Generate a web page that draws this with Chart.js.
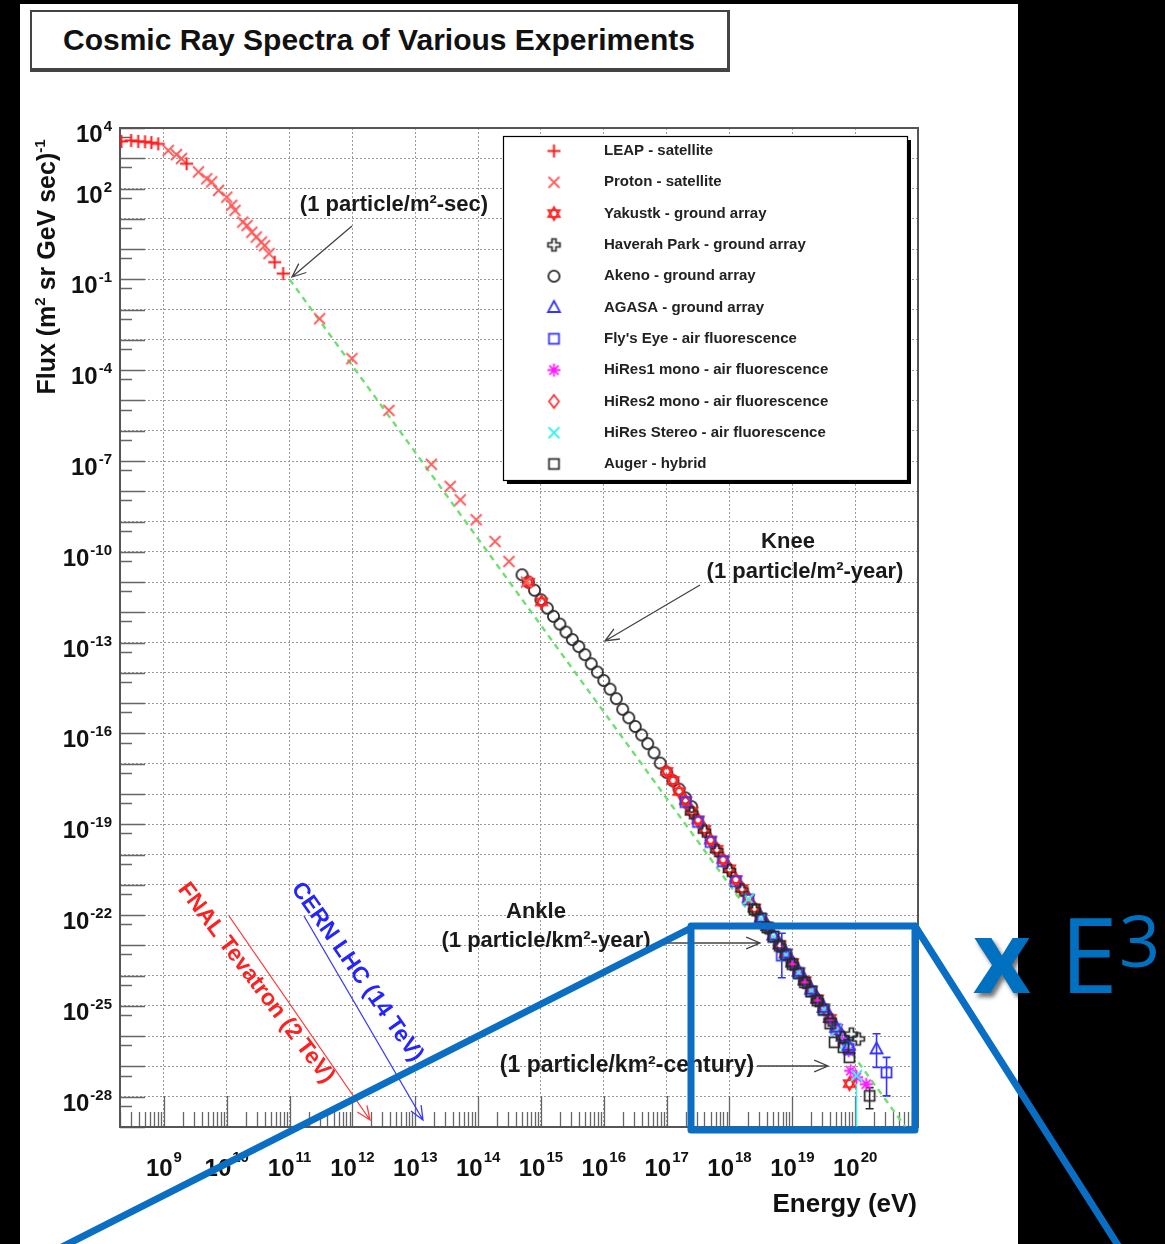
<!DOCTYPE html>
<html lang="en">
<head>
<meta charset="utf-8">
<title>Cosmic Ray Spectra of Various Experiments</title>
<script src="https://cdn.jsdelivr.net/npm/chart.js@4.4.1/dist/chart.umd.min.js"></script>
<style>
  html, body { margin: 0; padding: 0; background: #000; }
  #wrap { position: relative; width: 1165px; height: 1244px; overflow: hidden; }
  #chart { position: absolute; left: 0; top: 0; }
  #title {
    position: absolute; left: 30px; top: 10px; width: 700px; height: 62px;
    box-sizing: border-box; background: #fff;
    border: 2px solid #444; border-right-width: 3px; border-bottom-width: 4px;
    font-family: "Liberation Sans", Arial, sans-serif; font-weight: bold; font-size: 30px;
    line-height: 56px; padding-left: 31px; color: #111; white-space: nowrap;
  }
</style>
</head>
<body>
<div id="wrap">
  <canvas id="chart" width="1165" height="1244"></canvas>
  <div id="title">Cosmic Ray Spectra of Various Experiments</div>
</div>
<script>
// energies in eV, flux in (m^2 sr GeV sec)^-1
const leapEnergy = [2.1e8, 3.0e8, 3.9e8, 5.0e8, 6.3e8, 8.1e8, 2.3e9, 5.8e10, 7.9e10];
const leapFlux = [3.6e3, 3.9e3, 3.6e3, 3.5e3, 3.3e3, 3.0e3, 6.6e2, 0.37, 0.155];

const protonEnergy = [1.17e9, 1.58e9, 1.9e9, 3.55e9, 4.8e9, 5.75e9, 7.4e9, 1.0e10, 1.2e10, 1.35e10, 1.8e10, 2.1e10, 2.5e10, 2.95e10, 3.55e10, 4.0e10, 4.7e10,
  3.0e11, 9.8e11, 3.8e12, 1.8e13, 3.6e13, 5.2e13, 9.3e13, 1.86e14, 3.1e14, 5.9e14];
const protonFlux = [1.8e3, 1.32e3, 9.8e2, 3.55e2, 2.1e2, 1.66e2, 87, 52, 28, 19, 7.8, 6.0, 3.6, 2.5, 1.7, 1.3, 0.71,
  5.0e-3, 2.4e-4, 4.7e-6, 7.8e-8, 1.45e-8, 5.2e-9, 1.15e-9, 2.2e-10, 4.8e-11, 1.0e-11];

const yakutskEnergy = [6.3e14, 1.02e15, 1e17, 1.26e17, 1.58e17, 2e17, 2.5e17, 3.16e17, 4e17, 5e17, 6.3e17, 7.9e17, 1e18, 1.26e18, 1.58e18, 2e18,
  2.5e18, 3.16e18, 4e18, 5e18, 6.3e18, 7.9e18, 1e19, 1.26e19, 1.58e19, 2e19, 2.5e19, 3.16e19, 4e19, 5e19, 8.1e19];
const yakutskFlux = [1.0e-11, 2.2e-12, 5.6e-18, 2.8e-18, 1.2e-18, 6.0e-19, 2.7e-19, 1.4e-19, 6.8e-20, 3.0e-20, 1.5e-20, 6.8e-21, 3.4e-21, 1.5e-21, 7.5e-22, 3.6e-22,
  1.7e-22, 8.2e-23, 4.3e-23, 2.1e-23, 1.05e-23, 5.4e-24, 2.7e-24, 1.35e-24, 6.8e-25, 3.4e-25, 1.7e-25, 8.5e-26, 3.9e-26, 1.8e-26, 2.7e-28];

const haverahEnergy = [2.5e17, 4e17, 6.3e17, 1e18, 1.58e18, 2.5e18, 4e18, 6.3e18, 1e19, 1.58e19, 2.5e19, 4e19, 6.3e19, 8.7e19, 1.12e20];
const haverahFlux = [2.4e-19, 6.0e-20, 1.35e-20, 3.0e-21, 6.8e-22, 1.5e-22, 3.8e-23, 9.5e-24, 2.4e-24, 6.0e-25, 1.5e-25, 3.4e-26, 9.0e-27, 1.17e-26, 8.1e-27];

const akenoEnergy = [5e14, 6.3e14, 7.9e14, 1e15, 1.26e15, 1.58e15, 2e15, 2.5e15, 3.16e15, 4e15, 5e15, 6.3e15, 7.9e15, 1e16,
  1.26e16, 1.58e16, 2e16, 2.5e16, 3.16e16, 4e16, 5e16, 6.3e16, 7.9e16, 1e17, 1.26e17, 1.58e17, 2e17, 2.5e17];
const akenoFlux = [1.74e-11, 1.0e-11, 5.4e-12, 2.6e-12, 1.38e-12, 7.4e-13, 4.1e-13, 2.24e-13, 1.26e-13, 7.4e-14, 4.0e-14, 2.0e-14, 1.07e-14, 5.6e-15,
  2.9e-15, 1.41e-15, 6.3e-16, 3.3e-16, 1.7e-16, 8.9e-17, 4.6e-17, 2.3e-17, 1.05e-17, 5.2e-18, 2.75e-18, 1.45e-18, 7.4e-19, 3.8e-19];

const agasaEnergy = [3.16e18, 4e18, 5e18, 6.3e18, 7.9e18, 1e19, 1.26e19, 1.58e19, 2e19, 2.5e19, 3.16e19, 4e19, 5e19, 6.3e19, 7.9e19, 2.19e20];
const agasaFlux = [8.5e-23, 4.5e-23, 2.2e-23, 1.1e-23, 5.6e-24, 2.8e-24, 1.4e-24, 7.1e-25, 3.6e-25, 1.8e-25, 9.0e-26, 4.2e-26, 2.0e-26, 1.0e-26, 5.0e-27, 3.8e-27];
const agasaErrHigh = [null, null, null, null, null, null, null, null, null, null, null, null, null, null, 9e-27, 1.2e-26];
const agasaErrLow = [null, null, null, null, null, null, null, null, null, null, null, null, null, null, 2.5e-27, 9.3e-28];

const flysEyeEnergy = [2e17, 3.16e17, 5e17, 7.9e17, 1.26e18, 2e18, 3.16e18, 5e18, 6.8e18, 7.9e18, 1.26e19, 2e19, 3.16e19, 5e19, 7.9e19, 3.16e20];
const flysEyeFlux = [5.4e-19, 1.2e-19, 2.6e-20, 6.0e-21, 1.3e-21, 3.3e-22, 7.4e-23, 1.9e-23, 4.6e-24, 5.1e-24, 1.2e-24, 3.0e-25, 7.5e-26, 1.7e-26, 3.8e-27, 6.3e-28];
const flysEyeErrHigh = [null, null, null, null, null, null, null, null, 2.5e-23, null, null, null, null, null, null, 2.0e-27];
const flysEyeErrLow = [null, null, null, null, null, null, null, null, 8.5e-25, null, null, null, null, null, null, 1.07e-28];

const hires1Energy = [7.9e18, 1e19, 1.26e19, 1.58e19, 2e19, 2.5e19, 3.16e19, 4e19, 5e19, 6.3e19, 7.9e19, 8.5e19, 1.05e20, 1.5e20];
const hires1Flux = [5.0e-24, 2.6e-24, 1.3e-24, 6.5e-25, 3.1e-25, 1.6e-25, 8.0e-26, 3.6e-26, 1.7e-26, 7.5e-27, 3.3e-27, 7.2e-28, 4.4e-28, 2.6e-28];

const hires2Energy = [2e17, 2.5e17, 3.16e17, 4e17, 5e17, 6.3e17, 7.9e17, 1e18, 1.26e18, 1.58e18, 2e18, 2.5e18, 3.16e18, 4e18];
const hires2Flux = [5.2e-19, 2.6e-19, 1.3e-19, 6.5e-20, 2.9e-20, 1.45e-20, 6.5e-21, 3.2e-21, 1.45e-21, 7.3e-22, 3.5e-22, 1.6e-22, 8.0e-23, 4.0e-23];

const stereoEnergy = [2e18, 3.16e18, 5e18, 7.9e18, 1.26e19, 2e19, 3.16e19, 5e19, 7.1e19, 1.05e20];
const stereoFlux = [3.4e-22, 7.6e-23, 1.9e-23, 4.8e-24, 1.25e-24, 3.1e-25, 7.6e-26, 1.6e-26, 5.5e-27, 5.0e-28];
const stereoErrHigh = [null, null, null, null, null, null, null, null, null, null];
const stereoErrLow = [null, null, null, null, null, null, null, null, null, 1e-31];

const augerEnergy = [2.5e18, 3.16e18, 4e18, 5e18, 6.3e18, 7.9e18, 1e19, 1.26e19, 1.58e19, 2e19, 2.5e19, 3.16e19, 4e19, 4.7e19, 6.5e19, 8.1e19, 1.7e20];
const augerFlux = [1.55e-22, 7.8e-23, 3.9e-23, 1.95e-23, 9.6e-24, 4.9e-24, 2.4e-24, 1.2e-24, 6.0e-25, 3.0e-25, 1.5e-25, 7.4e-26, 2.6e-26, 6.3e-27, 4.3e-27, 2.0e-27, 1.07e-28];
const augerErrHigh = [null, null, null, null, null, null, null, null, null, null, null, null, null, null, null, null, 2.0e-28];
const augerErrLow = [null, null, null, null, null, null, null, null, null, null, null, null, null, null, null, null, 4.0e-29];

// green dashed fit line
const fitEnergy = [1e11, 6.3e20];
const fitFlux = [1e-1, 1e-29];

// axes
const xTickValues = [1e9, 1e10, 1e11, 1e12, 1e13, 1e14, 1e15, 1e16, 1e17, 1e18, 1e19, 1e20];
const xTickLabels = ['9', '10', '11', '12', '13', '14', '15', '16', '17', '18', '19', '20'];
const yGridValues = [1e4, 1e3, 1e2, 1e1, 1e0, 1e-1, 1e-2, 1e-3, 1e-4, 1e-5, 1e-6, 1e-7, 1e-8, 1e-9, 1e-10, 1e-11, 1e-12,
  1e-13, 1e-14, 1e-15, 1e-16, 1e-17, 1e-18, 1e-19, 1e-20, 1e-21, 1e-22, 1e-23, 1e-24, 1e-25, 1e-26, 1e-27, 1e-28];
const yTickValues = [1e4, 1e2, 1e-1, 1e-4, 1e-7, 1e-10, 1e-13, 1e-16, 1e-19, 1e-22, 1e-25, 1e-28];
const yTickLabels = ['4', '2', '-1', '-4', '-7', '-10', '-13', '-16', '-19', '-22', '-25', '-28'];

const FONT = '"Liberation Sans", Arial, sans-serif';

// ---- markers (ROOT-like) ----
function makeMarker(draw) {
  const c = document.createElement('canvas');
  c.width = 17;
  c.height = 17;
  const g = c.getContext('2d');
  g.translate(8.5, 8.5);
  g.lineWidth = 1.7;
  draw(g);
  return c;
}

function poly(g, pts) {
  g.beginPath();
  pts.forEach((p, i) => i ? g.lineTo(p[0], p[1]) : g.moveTo(p[0], p[1]));
  g.closePath();
}

const plusMarker = color => makeMarker(g => {
  g.strokeStyle = color; g.lineWidth = 2;
  g.beginPath(); g.moveTo(-6.5, 0); g.lineTo(6.5, 0); g.moveTo(0, -6.5); g.lineTo(0, 6.5); g.stroke();
});
const crossMarker = (color, w) => makeMarker(g => {
  g.strokeStyle = color; g.lineWidth = w;
  g.beginPath(); g.moveTo(-5.5, -5.5); g.lineTo(5.5, 5.5); g.moveTo(5.5, -5.5); g.lineTo(-5.5, 5.5); g.stroke();
});
const starMarker = color => makeMarker(g => {
  g.strokeStyle = color; g.lineWidth = 1.8;
  poly(g, [[0, -6.5], [5.7, 3.3], [-5.7, 3.3]]); g.stroke();
  poly(g, [[0, 6.5], [5.7, -3.3], [-5.7, -3.3]]); g.stroke();
});
const openCrossMarker = color => makeMarker(g => {
  g.strokeStyle = color;
  poly(g, [[-2, -6], [2, -6], [2, -2], [6, -2], [6, 2], [2, 2], [2, 6], [-2, 6],
    [-2, 2], [-6, 2], [-6, -2], [-2, -2]]);
  g.stroke();
});
const circleMarker = color => makeMarker(g => {
  g.strokeStyle = color; g.lineWidth = 1.8; g.beginPath(); g.arc(0, 0, 5.6, 0, Math.PI * 2); g.stroke();
});
const triangleMarker = color => makeMarker(g => {
  g.strokeStyle = color; g.lineWidth = 1.8; poly(g, [[0, -6.5], [6, 4.5], [-6, 4.5]]); g.stroke();
});
const squareMarker = (color, w) => makeMarker(g => {
  g.strokeStyle = color; g.lineWidth = w; g.strokeRect(-5, -5, 10, 10);
});
const diamondMarker = color => makeMarker(g => {
  g.strokeStyle = color; g.lineWidth = 1.7; poly(g, [[0, -6.5], [5, 0], [0, 6.5], [-5, 0]]); g.stroke();
});
const asteriskMarker = color => makeMarker(g => {
  g.strokeStyle = color; g.lineWidth = 1.8;
  g.beginPath();
  g.moveTo(-6.5, 0); g.lineTo(6.5, 0); g.moveTo(0, -6.5); g.lineTo(0, 6.5);
  g.moveTo(-4.6, -4.6); g.lineTo(4.6, 4.6); g.moveTo(4.6, -4.6); g.lineTo(-4.6, 4.6);
  g.stroke();
});

function series(label, energies, fluxes, marker, order, extra) {
  return Object.assign({
    label: label,
    data: energies.map((e, i) => ({ x: e, y: fluxes[i] })),
    pointStyle: marker,
    pointRadius: 6,
    pointHoverRadius: 6,
    order: order,
    inLegend: true
  }, extra || {});
}

// lower order is drawn on top
const datasets = [
  series('LEAP - satellite', leapEnergy, leapFlux, plusMarker('#ff1a1a'), 1),
  series('Proton - satellite', protonEnergy, protonFlux, crossMarker('#ff5c5c', 1.8), 2),
  series('Yakustk - ground array', yakutskEnergy, yakutskFlux, starMarker('#ff2020'), 7),
  series('Haverah Park - ground array', haverahEnergy, haverahFlux, openCrossMarker('#2a2a2a'), 3),
  series('Akeno - ground array', akenoEnergy, akenoFlux, circleMarker('#2a2a2a'), 9),
  series('AGASA - ground array', agasaEnergy, agasaFlux, triangleMarker('#3535ff'), 4,
    { errHigh: agasaErrHigh, errLow: agasaErrLow, errColor: '#3535ff' }),
  series("Fly's Eye - air fluorescence", flysEyeEnergy, flysEyeFlux, squareMarker('#3535ff', 1.8), 6,
    { errHigh: flysEyeErrHigh, errLow: flysEyeErrLow, errColor: '#3535ff' }),
  series('HiRes1 mono - air fluorescence', hires1Energy, hires1Flux, asteriskMarker('#ff1aff'), 8),
  series('HiRes2 mono - air fluorescence', hires2Energy, hires2Flux, diamondMarker('#ff3030'), 10),
  series('HiRes Stereo - air fluorescence', stereoEnergy, stereoFlux, crossMarker('#3cf0f0', 2), 5,
    { errHigh: stereoErrHigh, errLow: stereoErrLow, errColor: '#3cf0f0' }),
  series('Auger - hybrid', augerEnergy, augerFlux, squareMarker('#2a2a2a', 1.7), 3,
    { errHigh: augerErrHigh, errLow: augerErrLow, errColor: '#2a2a2a' }),
  {
    label: 'fit',
    data: fitEnergy.map((e, i) => ({ x: e, y: fitFlux[i] })),
    showLine: true,
    pointRadius: 0,
    borderColor: '#6fe06f',
    borderWidth: 2.4,
    borderDash: [6, 5],
    order: 20,
    inLegend: false
  }
];

// ---- drawing helpers ----
function drawFrame(chart) {
  const { ctx, chartArea: a, scales: { x, y } } = chart;
  ctx.save();
  ctx.strokeStyle = '#666';
  ctx.lineWidth = 1.3;
  ctx.beginPath();
  for (let n = 8; n <= 20; n++) {
    for (let k = 1; k <= 9; k++) {
      const v = k * Math.pow(10, n);
      if (v < x.min || v > x.max) continue;
      const px = Math.round(x.getPixelForValue(v)) + 0.5;
      ctx.moveTo(px, a.bottom);
      ctx.lineTo(px, a.bottom - (k === 1 ? 31 : 15));
    }
  }
  for (let n = -29; n <= 4; n++) {
    const py = Math.round(y.getPixelForValue(Math.pow(10, n))) + 0.5;
    ctx.moveTo(a.left, py); ctx.lineTo(a.left + 25, py);
    const pm = Math.round(y.getPixelForValue(5 * Math.pow(10, n - 1))) + 0.5;
    if (pm < a.bottom) { ctx.moveTo(a.left, pm); ctx.lineTo(a.left + 12, pm); }
  }
  ctx.stroke();
  ctx.strokeStyle = '#555';
  ctx.lineWidth = 2;
  ctx.strokeRect(a.left, a.top, a.right - a.left, a.bottom - a.top);
  ctx.restore();
}

function drawErrorBars(chart) {
  const { ctx, chartArea: a, scales: { x, y } } = chart;
  ctx.save();
  ctx.beginPath();
  ctx.rect(a.left, a.top, a.right - a.left, a.bottom - a.top);
  ctx.clip();
  ctx.lineWidth = 1.6;
  chart.data.datasets.forEach(ds => {
    if (!ds.errHigh) return;
    ctx.strokeStyle = ds.errColor;
    ds.data.forEach((p, i) => {
      const hi = ds.errHigh[i], lo = ds.errLow[i];
      if (hi == null && lo == null) return;
      const px = x.getPixelForValue(p.x);
      const top = y.getPixelForValue(hi == null ? p.y : hi);
      const bot = y.getPixelForValue(lo == null ? p.y : lo);
      ctx.beginPath();
      ctx.moveTo(px, top); ctx.lineTo(px, bot);
      if (hi != null) { ctx.moveTo(px - 4, top); ctx.lineTo(px + 4, top); }
      if (lo != null) { ctx.moveTo(px - 4, bot); ctx.lineTo(px + 4, bot); }
      ctx.stroke();
    });
  });
  ctx.restore();
}

function drawLegendBox(chart) {
  const ctx = chart.ctx;
  ctx.save();
  ctx.fillStyle = '#000';
  ctx.fillRect(507, 140, 404, 344);
  ctx.fillStyle = '#fff';
  ctx.fillRect(503, 136, 404, 344);
  ctx.strokeStyle = '#000';
  ctx.lineWidth = 1.2;
  ctx.strokeRect(503.5, 136.5, 404, 344);
  ctx.font = 'bold 15px ' + FONT;
  ctx.fillStyle = '#222';
  ctx.textBaseline = 'middle';
  let row = 0;
  chart.data.datasets.forEach(ds => {
    if (!ds.inLegend) return;
    const yy = 151 + row * 31.3;
    const m = ds.pointStyle;
    ctx.drawImage(m, 554 - m.width / 2, yy - m.height / 2);
    ctx.fillText(ds.label, 604, yy);
    row++;
  });
  ctx.restore();
}

// "10" with a raised exponent
function drawPower(ctx, exp, x, baseY, align, raise) {
  const baseFont = 'bold 24px ' + FONT, supFont = 'bold 15px ' + FONT;
  ctx.font = baseFont;
  const w1 = ctx.measureText('10').width;
  ctx.font = supFont;
  const w2 = ctx.measureText(exp).width;
  const total = w1 + 1 + w2;
  const left = align === 'center' ? x - total / 2 : x - total;
  ctx.font = baseFont;
  ctx.fillText('10', left, baseY);
  ctx.font = supFont;
  ctx.fillText(exp, left + w1 + 1, baseY - raise);
}

// pieces: [text, isSuperscript]
function drawPieces(ctx, pieces, cx, baseY, size, supSize, raise) {
  const widths = pieces.map(p => {
    ctx.font = 'bold ' + (p[1] ? supSize : size) + 'px ' + FONT;
    return ctx.measureText(p[0]).width;
  });
  let px = cx - widths.reduce((s, w) => s + w, 0) / 2;
  pieces.forEach((p, i) => {
    ctx.font = 'bold ' + (p[1] ? supSize : size) + 'px ' + FONT;
    ctx.fillText(p[0], px, p[1] ? baseY - raise : baseY);
    px += widths[i];
  });
}

function drawAxisText(chart) {
  const { ctx, scales: { x, y } } = chart;
  ctx.save();
  ctx.fillStyle = '#111';
  ctx.textBaseline = 'alphabetic';
  ctx.textAlign = 'left';
  xTickValues.forEach((v, i) => drawPower(ctx, xTickLabels[i], x.getPixelForValue(v), 1176, 'center', 14));
  yTickValues.forEach((v, i) => drawPower(ctx, yTickLabels[i], 112, y.getPixelForValue(v) + 14, 'right', 11));

  ctx.font = 'bold 26px ' + FONT;
  ctx.textAlign = 'right';
  ctx.fillText('Energy (eV)', 917, 1212);

  ctx.textAlign = 'left';
  ctx.translate(47, 267);
  ctx.rotate(-Math.PI / 2);
  drawPieces(ctx, [['Flux (m', false], ['2', true], [' sr GeV sec)', false], ['-1', true]], 0, 8, 25, 15, 10);
  ctx.restore();
}

function arrow(ctx, x1, y1, x2, y2, color) {
  const ang = Math.atan2(y2 - y1, x2 - x1);
  const len = 15, spread = 0.4;
  ctx.strokeStyle = color;
  ctx.beginPath();
  ctx.moveTo(x1, y1); ctx.lineTo(x2, y2);
  ctx.moveTo(x2 - len * Math.cos(ang - spread), y2 - len * Math.sin(ang - spread));
  ctx.lineTo(x2, y2);
  ctx.lineTo(x2 - len * Math.cos(ang + spread), y2 - len * Math.sin(ang + spread));
  ctx.stroke();
}

function drawNotes(chart) {
  const ctx = chart.ctx;
  ctx.save();
  ctx.fillStyle = '#1a1a1a';
  ctx.textAlign = 'center';
  ctx.textBaseline = 'middle';
  ctx.font = 'bold 22px ' + FONT;
  ctx.fillText('(1 particle/m\u00b2-sec)', 394, 205);
  ctx.fillText('Knee', 788, 542);
  ctx.fillText('(1 particle/m\u00b2-year)', 805, 572);
  ctx.fillText('Ankle', 536, 912);
  ctx.fillText('(1 particle/km\u00b2-year)', 546, 941);
  ctx.font = 'bold 23px ' + FONT;
  ctx.fillText('(1 particle/km\u00b2-century)', 627, 1066);

  ctx.lineWidth = 1.3;
  arrow(ctx, 352, 226, 292, 277, '#444');
  arrow(ctx, 700, 585, 605, 641, '#444');
  arrow(ctx, 657, 943, 760, 943, '#444');
  arrow(ctx, 757, 1066, 828, 1066, '#444');
  arrow(ctx, 229, 916, 370, 1120, '#ff3a3a');
  arrow(ctx, 304, 916, 423, 1120, '#3a3aff');

  ctx.font = 'bold 23px ' + FONT;
  ctx.save();
  ctx.translate(256, 983);
  ctx.rotate(53 * Math.PI / 180);
  ctx.fillStyle = '#ff2020';
  ctx.fillText('FNAL Tevatron (2 TeV)', 0, 0);
  ctx.restore();
  ctx.save();
  ctx.translate(357, 972);
  ctx.rotate(55 * Math.PI / 180);
  ctx.fillStyle = '#2424ff';
  ctx.fillText('CERN LHC (14 TeV)', 0, 0);
  ctx.restore();
  ctx.restore();
}

function drawSketch(chart) {
  const ctx = chart.ctx;
  ctx.save();
  ctx.strokeStyle = '#0a6fc4';
  ctx.lineWidth = 7;
  ctx.lineCap = 'round';
  ctx.lineJoin = 'round';
  ctx.beginPath();
  ctx.moveTo(691, 926); ctx.lineTo(915, 926); ctx.lineTo(915, 1130); ctx.lineTo(691, 1130); ctx.closePath();
  ctx.moveTo(691, 928); ctx.lineTo(56, 1250);
  ctx.moveTo(915, 926); ctx.lineTo(1121, 1250);
  ctx.stroke();

  ctx.fillStyle = '#0070c0';
  ctx.textAlign = 'left';
  ctx.textBaseline = 'alphabetic';
  ctx.font = 'bold 100px "Open Sans", sans-serif';
  ctx.shadowColor = 'rgba(0,0,0,0.55)';
  ctx.shadowOffsetX = 3;
  ctx.shadowOffsetY = 4;
  ctx.shadowBlur = 4;
  ctx.fillText('x', 973, 993);
  ctx.shadowColor = 'transparent';
  ctx.font = '104px "Open Sans", sans-serif';
  ctx.fillText('E', 1060, 993);
  ctx.font = '72px "Open Sans", sans-serif';
  ctx.fillText('3', 1119, 967);
  ctx.restore();
}

const decoPlugin = {
  id: 'deco',
  beforeDraw(chart) {
    const ctx = chart.ctx;
    ctx.save();
    ctx.fillStyle = '#000';
    ctx.fillRect(0, 0, chart.width, chart.height);
    ctx.fillStyle = '#fff';
    ctx.fillRect(20, 4, 998, chart.height - 4);
    ctx.restore();
  },
  beforeDatasetsDraw(chart) {
    drawFrame(chart);
    drawErrorBars(chart);
  },
  afterDatasetsDraw(chart) {
    drawLegendBox(chart);
  },
  afterDraw(chart) {
    drawAxisText(chart);
    drawNotes(chart);
    drawSketch(chart);
  }
};

const gridStyle = { color: '#9a9a9a', lineWidth: 1, drawTicks: false };

new Chart(document.getElementById('chart').getContext('2d'), {
  type: 'scatter',
  data: { datasets: datasets },
  options: {
    responsive: false,
    animation: false,
    layout: { padding: { left: 20, top: 128, right: 247, bottom: 0 } },
    plugins: { legend: { display: false }, tooltip: { enabled: false } },
    scales: {
      x: {
        type: 'logarithmic',
        min: 2e8,
        max: 1e21,
        ticks: { display: false },
        grid: gridStyle,
        border: { display: false, dash: [2, 2] },
        afterBuildTicks: s => { s.ticks = xTickValues.map(v => ({ value: v })); },
        afterFit: s => { s.height = 117; }
      },
      y: {
        type: 'logarithmic',
        min: 1e-29,
        max: 1e4,
        ticks: { display: false },
        grid: gridStyle,
        border: { display: false, dash: [2, 2] },
        afterBuildTicks: s => { s.ticks = yGridValues.map(v => ({ value: v })); },
        afterFit: s => { s.width = 100; }
      }
    }
  },
  plugins: [decoPlugin]
});
</script>
</body>
</html>
